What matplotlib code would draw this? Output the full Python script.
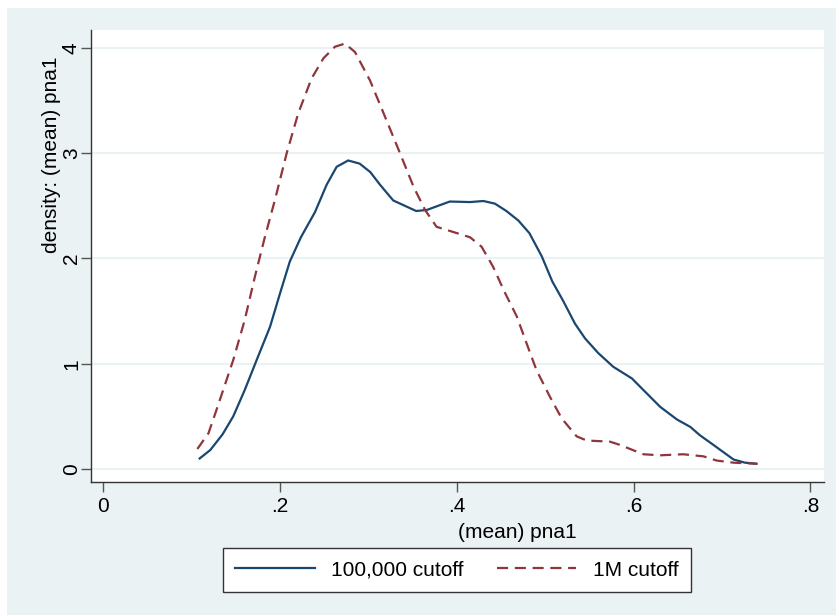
import matplotlib
matplotlib.use("Agg")
import matplotlib.pyplot as plt
from matplotlib.patches import Rectangle

plt.rcParams['font.family'] = ['Liberation Sans Narrow', 'Liberation Sans', 'DejaVu Sans']

# kernel density of (mean) pna1
x_100k = [0.109, 0.121, 0.135, 0.147, 0.160, 0.1735, 0.1886, 0.200, 0.211, 0.2235, 0.2395, 0.2527,
          0.264, 0.277, 0.290, 0.302, 0.313, 0.328, 0.341, 0.354, 0.366, 0.379, 0.392, 0.415, 0.430,
          0.443, 0.456, 0.4695, 0.482, 0.496, 0.508, 0.520, 0.5336, 0.545, 0.560, 0.577, 0.598,
          0.611, 0.630, 0.649, 0.664, 0.675, 0.690, 0.713, 0.726, 0.739]
y_100k = [0.10, 0.18, 0.33, 0.50, 0.75, 1.035, 1.35, 1.67, 1.97, 2.20, 2.44, 2.70,
          2.87, 2.93, 2.90, 2.82, 2.70, 2.55, 2.50, 2.45, 2.46, 2.50, 2.54, 2.535, 2.545,
          2.52, 2.45, 2.36, 2.24, 2.02, 1.78, 1.60, 1.38, 1.24, 1.10, 0.97, 0.86,
          0.75, 0.59, 0.47, 0.40, 0.32, 0.23, 0.09, 0.06, 0.05]

x_1m = [0.1064, 0.119, 0.128, 0.147, 0.160, 0.1716, 0.183, 0.194, 0.2075, 0.2206, 0.2357, 0.249,
        0.262, 0.2734, 0.2847, 0.3017, 0.317, 0.3356, 0.351, 0.364, 0.377, 0.400, 0.415, 0.428,
        0.441, 0.454, 0.4677, 0.479, 0.490, 0.505, 0.5186, 0.5355, 0.547, 0.573, 0.584, 0.611,
        0.630, 0.656, 0.679, 0.694, 0.713, 0.739]
y_1m = [0.19, 0.34, 0.56, 1.035, 1.415, 1.83, 2.21, 2.55, 3.00, 3.38, 3.71, 3.90,
        4.01, 4.04, 3.96, 3.69, 3.38, 3.00, 2.68, 2.46, 2.30, 2.24, 2.20, 2.11,
        1.92, 1.68, 1.45, 1.19, 0.94, 0.69, 0.48, 0.31, 0.27, 0.26, 0.23, 0.14,
        0.13, 0.14, 0.12, 0.08, 0.06, 0.05]

x_ticks = [0, 0.2, 0.4, 0.6, 0.8]
x_tick_labels = ['0', '.2', '.4', '.6', '.8']
y_ticks = [0, 1, 2, 3, 4]
y_tick_labels = ['0', '1', '2', '3', '4']

navy = '#1a476f'
maroon = '#90353b'
bg = '#eaf2f3'

fig = plt.figure(figsize=(8.36, 6.15), dpi=100, facecolor='white')
fig.patches.append(Rectangle((7 / 836, 0), 1, 1 - 8 / 615, transform=fig.transFigure,
                             facecolor=bg, edgecolor='none', zorder=-10))

ax = fig.add_axes([90.7 / 836, 1 - 482 / 615, (824 - 90.7) / 836, (482 - 30) / 615])
ax.set_facecolor('white')

ax.plot(x_100k, y_100k, color=navy, lw=1.6, label='100,000 cutoff')
ax.plot(x_1m, y_1m, color=maroon, lw=1.6, dashes=(5, 3), label='1M cutoff')

ax.set_xlim(-0.01425, 0.8153)
ax.set_ylim(-0.1235, 4.169)

ax.set_xticks(x_ticks)
ax.set_xticklabels(x_tick_labels)
ax.set_yticks(y_ticks)
ax.set_yticklabels(y_tick_labels, rotation=90, va='center')
ax.tick_params(axis='both', labelsize=15, length=7, width=1, color='#555555')
ax.tick_params(axis='y', pad=0)
ax.tick_params(axis='x', pad=4)
ax.grid(axis='y', color=bg, lw=1.5)
ax.set_axisbelow(True)

for side in ['top', 'right']:
    ax.spines[side].set_visible(False)
for side in ['left', 'bottom']:
    ax.spines[side].set_color('#333333')
    ax.spines[side].set_linewidth(1)

ax.set_xlabel('(mean) pna1', fontsize=15)
ax.xaxis.set_label_coords((517 - 90.7) / 733.3, -0.0907)
ax.set_ylabel('density: (mean) pna1', fontsize=15)
ax.yaxis.set_label_coords(-0.041, 0.723)

leg = fig.legend(loc='center', bbox_to_anchor=(457 / 836, 1 - 570 / 615), ncol=2, fontsize=15,
                 handlelength=3.8, handletextpad=0.8, columnspacing=1.6, fancybox=False,
                 edgecolor='#333333', framealpha=1, borderpad=0.6)
leg.get_frame().set_linewidth(1)

fig.savefig('out.png', dpi=100, facecolor=fig.get_facecolor())
